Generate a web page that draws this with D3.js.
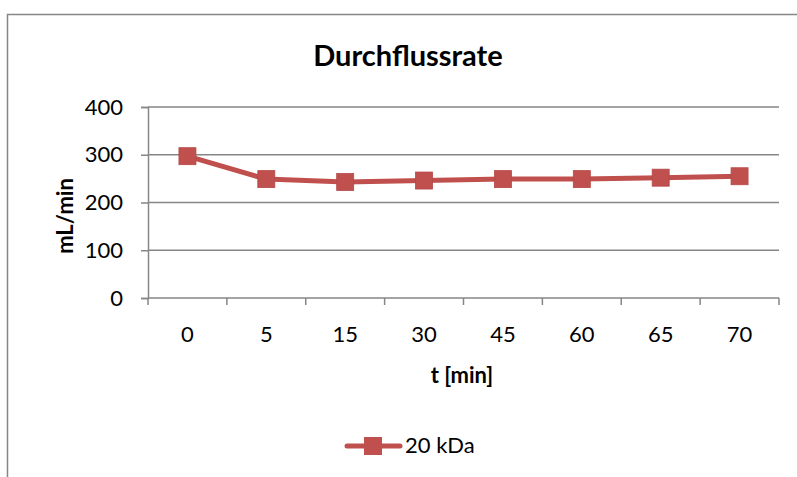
<!DOCTYPE html>
<html>
<head>
<meta charset="utf-8">
<script src="https://cdn.jsdelivr.net/npm/d3@7"></script>
<style>
  html, body { margin: 0; padding: 0; background: #fff; }
  svg { display: block; font-family: Lato, "Liberation Sans", sans-serif; }
</style>
</head>
<body>
<svg id="chart" width="797" height="477"></svg>
<script>
// Flow rate over time for the 20 kDa membrane
const categories = ["0", "5", "15", "30", "45", "60", "65", "70"];
const flowValues = [297, 249, 243, 246, 249, 249, 252, 255];
const yTicks = [0, 100, 200, 300, 400];
const seriesName = "20 kDa";

const svg = d3.select("#chart");
const W = 797, H = 477;
const plot = { left: 148, right: 779, top: 107, bottom: 298 };
const red = "#C0504D";
const gray = "#868686";

// outer chart frame
svg.append("rect")
  .attr("x", 7.5).attr("y", 14.5)
  .attr("width", W + 20).attr("height", H + 20)
  .attr("fill", "#fff").attr("stroke", gray).attr("stroke-width", 1.5);

const x = d3.scaleBand().domain(categories).range([plot.left, plot.right]);
const y = d3.scaleLinear().domain([0, 400]).range([plot.bottom, plot.top]);

// horizontal gridlines
svg.append("g").selectAll("line").data(yTicks.filter(d => d > 0)).join("line")
  .attr("x1", plot.left).attr("x2", plot.right)
  .attr("y1", d => y(d)).attr("y2", d => y(d))
  .attr("stroke", gray).attr("stroke-width", 1.5);

// y axis
const yAxis = svg.append("g")
  .attr("transform", `translate(${plot.left},0)`)
  .call(d3.axisLeft(y).tickValues(yTicks).tickSize(7).tickPadding(18));
yAxis.select(".domain").attr("stroke", gray).attr("stroke-width", 1.5);
yAxis.selectAll(".tick line").attr("stroke", gray).attr("stroke-width", 1.5);
yAxis.selectAll("text").attr("font-size", 22).attr("fill", "#000")
  .attr("font-family", "Lato, sans-serif");

// x axis: ticks sit on category boundaries
const boundaries = d3.range(categories.length + 1)
  .map(i => plot.left + i * x.step());
const xg = svg.append("g");
xg.append("line")
  .attr("x1", plot.left).attr("x2", plot.right)
  .attr("y1", plot.bottom).attr("y2", plot.bottom)
  .attr("stroke", gray).attr("stroke-width", 1.5);
xg.selectAll("line.tick").data(boundaries).join("line")
  .attr("class", "tick")
  .attr("x1", d => d).attr("x2", d => d)
  .attr("y1", plot.bottom).attr("y2", plot.bottom + 7)
  .attr("stroke", gray).attr("stroke-width", 1.5);
xg.selectAll("text").data(categories).join("text")
  .attr("x", d => x(d) + x.bandwidth() / 2)
  .attr("y", plot.bottom + 44)
  .attr("text-anchor", "middle")
  .attr("font-size", 22)
  .text(d => d);

// series line
const pts = categories.map((c, i) => [x(c) + x.bandwidth() / 2, y(flowValues[i])]);
svg.append("path")
  .attr("d", d3.line()(pts))
  .attr("fill", "none").attr("stroke", red)
  .attr("stroke-width", 5).attr("stroke-linejoin", "round").attr("stroke-linecap", "round");

const m = 17;
svg.append("g").selectAll("rect").data(pts).join("rect")
  .attr("x", d => d[0] - m / 2).attr("y", d => d[1] - m / 2)
  .attr("width", m).attr("height", m)
  .attr("fill", red).attr("stroke", "#b5494a").attr("stroke-width", 0.8);

// title
svg.append("text")
  .attr("x", 408).attr("y", 66)
  .attr("text-anchor", "middle")
  .attr("font-size", 29).attr("font-weight", "bold")
  .text("Durchflussrate");

// axis titles
svg.append("text")
  .attr("transform", "translate(73,216) rotate(-90)")
  .attr("text-anchor", "middle")
  .attr("font-size", 22).attr("font-weight", "bold")
  .text("mL/min");
svg.append("text")
  .attr("x", 462).attr("y", 383)
  .attr("text-anchor", "middle")
  .attr("font-size", 22).attr("font-weight", "bold")
  .text("t [min]");

// legend
const lg = svg.append("g");
lg.append("line")
  .attr("x1", 347).attr("x2", 400).attr("y1", 446).attr("y2", 446)
  .attr("stroke", red).attr("stroke-width", 5).attr("stroke-linecap", "round");
lg.append("rect")
  .attr("x", 373 - 9).attr("y", 446 - 9).attr("width", 18).attr("height", 18)
  .attr("fill", red);
lg.append("text")
  .attr("x", 405).attr("y", 453)
  .attr("font-size", 22)
  .text(seriesName);
</script>
</body>
</html>
